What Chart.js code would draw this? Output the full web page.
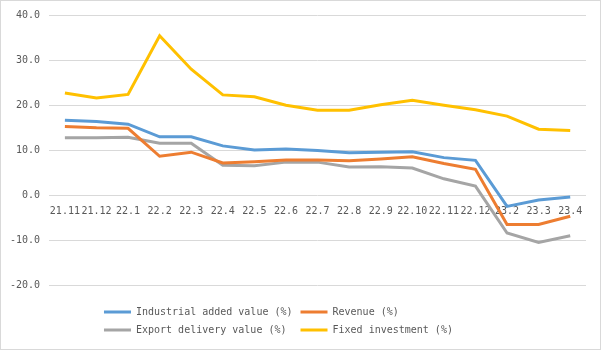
<!DOCTYPE html>
<html>
<head>
    <meta charset="UTF-8">
    <title>Industrial indicators</title>
    <script src="https://cdn.jsdelivr.net/npm/chart.js"></script>
    <style>
        body { margin: 0; background: #fff; }
        #wrap { position: relative; width: 601px; height: 350px; }
        #frame { position: absolute; left: 0; top: 0; width: 601px; height: 350px; box-sizing: border-box; border: 1px solid #d9d9d9; pointer-events: none; }
    </style>
</head>
<body>
    <div id="wrap">
        <canvas id="chartCanvas" width="601" height="350"></canvas>
        <div id="frame"></div>
    </div>

    <script>
        var months = ["21.11", "21.12", "22.1", "22.2", "22.3", "22.4", "22.5", "22.6", "22.7",
                      "22.8", "22.9", "22.10", "22.11", "22.12", "23.2", "23.3", "23.4"];
        var industrial = [16.7, 16.4, 15.8, 13.0, 13.0, 11.0, 10.1, 10.3, 10.0, 9.5, 9.6, 9.7, 8.4, 7.8, -2.4, -1.0, -0.3];
        var revenue    = [15.3, 15.0, 14.9, 8.7, 9.6, 7.2, 7.5, 7.9, 7.9, 7.7, 8.1, 8.6, 7.1, 5.8, -6.4, -6.4, -4.6];
        var exportVal  = [12.8, 12.8, 12.9, 11.6, 11.6, 6.7, 6.6, 7.4, 7.4, 6.3, 6.4, 6.1, 3.7, 2.1, -8.3, -10.4, -8.9];
        var fixedInv   = [22.7, 21.6, 22.4, 35.4, 28.0, 22.3, 21.9, 20.0, 18.9, 18.9, 20.1, 21.1, 20.0, 19.0, 17.6, 14.7, 14.4];
        var seriesNames = ["Industrial added value (%)", "Revenue (%)", "Export delivery value (%)", "Fixed investment (%)"];
        var seriesColors = ["#5b9bd5", "#ed7d31", "#a5a5a5", "#ffc000"];

        Chart.defaults.font.family = "'DejaVu Sans Mono', monospace";
        Chart.defaults.font.size = 10;
        Chart.defaults.color = "#595959";

        function makeSet(i, values) {
            return {
                label: seriesNames[i],
                data: values,
                borderColor: seriesColors[i],
                backgroundColor: seriesColors[i],
                borderWidth: 3,
                pointRadius: 0,
                tension: 0,
                fill: false
            };
        }

        var ctx = document.getElementById("chartCanvas").getContext("2d");
        new Chart(ctx, {
            type: "line",
            data: {
                labels: months,
                datasets: [
                    makeSet(0, industrial),
                    makeSet(1, revenue),
                    makeSet(2, exportVal),
                    makeSet(3, fixedInv)
                ]
            },
            options: {
                responsive: false,
                animation: false,
                layout: { padding: { left: 1, right: 15, top: 15, bottom: 5 } },
                plugins: {
                    tooltip: { enabled: false },
                    legend: {
                        position: "bottom",
                        title: { display: true, text: " ", font: { size: 1 }, padding: { top: 6, bottom: 6 } },
                        labels: {
                            boxWidth: 27,
                            boxHeight: 3,
                            padding: 8,
                            // pad texts so the two rows line up in columns
                            generateLabels: function (chart) {
                                var items = Chart.defaults.plugins.legend.labels.generateLabels(chart);
                                return items.map(function (item, i) {
                                    item.text = item.text.padEnd(i % 2 === 0 ? 26 : 25);
                                    item.fillStyle = item.strokeStyle;
                                    item.lineWidth = 0;
                                    return item;
                                });
                            }
                        }
                    }
                },
                scales: {
                    x: {
                        position: { y: 0 },
                        offset: true,
                        grid: { display: false, drawTicks: false },
                        border: { display: false },
                        ticks: { autoSkip: false, maxRotation: 0, minRotation: 0, padding: 10 },
                        afterFit: function (scale) {
                            scale.paddingLeft = 0;
                            scale.paddingRight = 0;
                        }
                    },
                    y: {
                        min: -20,
                        max: 40,
                        grid: { color: "#d9d9d9", drawTicks: false },
                        border: { display: false },
                        ticks: {
                            stepSize: 10,
                            padding: 9,
                            callback: function (v) { return v.toFixed(1); }
                        }
                    }
                }
            }
        });
    </script>
</body>
</html>
